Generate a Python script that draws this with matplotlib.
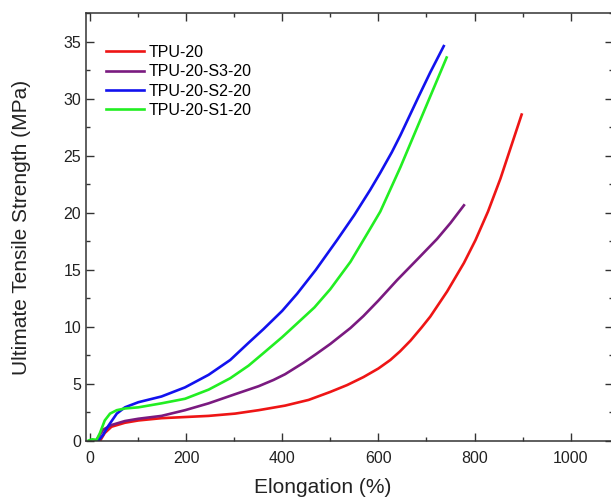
import matplotlib
matplotlib.use('Agg')
import matplotlib.pyplot as plt
from matplotlib.ticker import MultipleLocator

plt.rcParams['font.family'] = ['Liberation Sans', 'DejaVu Sans']

# curves (elongation %, strength MPa)
tpu20_x = [21, 31, 45, 73, 101, 149, 198, 247, 302, 351, 406, 455, 500, 535, 569, 600, 625,
           645, 667, 690, 708, 743, 778, 802, 828, 854, 876, 898]
tpu20_y = [0.0, 0.7, 1.25, 1.6, 1.8, 2.0, 2.1, 2.2, 2.4, 2.7, 3.1, 3.6, 4.3, 4.9, 5.6, 6.35, 7.1,
           7.85, 8.8, 9.95, 10.9, 13.1, 15.6, 17.6, 20.1, 23.0, 25.8, 28.6]

s3_x = [14, 28, 45, 73, 101, 149, 198, 247, 302, 351, 382, 406, 444, 470, 500, 542, 569, 600,
        639, 683, 722, 750, 778]
s3_y = [0.1, 1.0, 1.4, 1.75, 1.95, 2.2, 2.7, 3.3, 4.1, 4.8, 5.35, 5.85, 6.85, 7.6, 8.5, 9.9,
        10.95, 12.3, 14.1, 16.0, 17.7, 19.1, 20.65]

s2_x = [17, 27, 38, 56, 73, 101, 149, 198, 247, 292, 330, 361, 400, 431, 470, 514, 550, 583,
        604, 628, 646, 684, 708, 736]
s2_y = [0.0, 0.5, 1.3, 2.4, 2.95, 3.4, 3.9, 4.7, 5.8, 7.1, 8.6, 9.8, 11.4, 12.9, 15.0, 17.6,
        19.8, 22.0, 23.5, 25.3, 26.8, 30.2, 32.3, 34.6]

s1_x = [-2, 5, 14, 21, 31, 42, 56, 73, 101, 149, 198, 247, 292, 330, 361, 400, 431, 467, 500,
        542, 583, 604, 646, 688, 722, 742]
s1_y = [0.05, 0.15, 0.1, 0.7, 1.8, 2.4, 2.7, 2.85, 2.95, 3.3, 3.7, 4.5, 5.5, 6.6, 7.7, 9.1,
        10.3, 11.7, 13.3, 15.7, 18.6, 20.1, 24.0, 28.2, 31.6, 33.6]

labels = ['TPU-20', 'TPU-20-S3-20', 'TPU-20-S2-20', 'TPU-20-S1-20']
colors = ['#ee1515', '#7a1a80', '#1212ee', '#22ee22']

fig = plt.figure(figsize=(6.11, 4.99), dpi=100)
ax = fig.add_axes([86 / 611, 58 / 499, 527 / 611, 428 / 499])

series = [(tpu20_x, tpu20_y), (s3_x, s3_y), (s2_x, s2_y), (s1_x, s1_y)]
for (x, y), lab, c in zip(series, labels, colors):
    ax.plot(x, y, color=c, lw=1.9, label=lab, solid_joinstyle='round')

ax.set_xlim(-8, 1088)
ax.set_ylim(0, 37.5)
ax.xaxis.set_major_locator(MultipleLocator(200))
ax.xaxis.set_minor_locator(MultipleLocator(100))
ax.yaxis.set_major_locator(MultipleLocator(5))
ax.yaxis.set_minor_locator(MultipleLocator(2.5))

ax.tick_params(which='both', direction='in', top=True, right=True, colors='#333333',
               labelcolor='#222222', labelsize=11.5)
ax.tick_params(which='major', length=5.5, width=1.0)
ax.tick_params(which='minor', length=3, width=1.0)
ax.tick_params(axis='x', pad=7)
for s in ax.spines.values():
    s.set_linewidth(1.1)
    s.set_color('#333333')

ax.set_xlabel('Elongation (%)', fontsize=15, color='#222222')
ax.set_ylabel('Ultimate Tensile Strength (MPa)', fontsize=15, color='#222222')
ax.xaxis.set_label_coords(0.45, -0.086)
ax.yaxis.set_label_coords(-0.105, 0.5)

ax.legend(loc='upper left', bbox_to_anchor=(0.038, 0.926), frameon=False, fontsize=11.5,
          handlelength=2.35, handletextpad=0.3, labelspacing=0.28, borderpad=0, borderaxespad=0)

fig.savefig('out.png', dpi=100)
